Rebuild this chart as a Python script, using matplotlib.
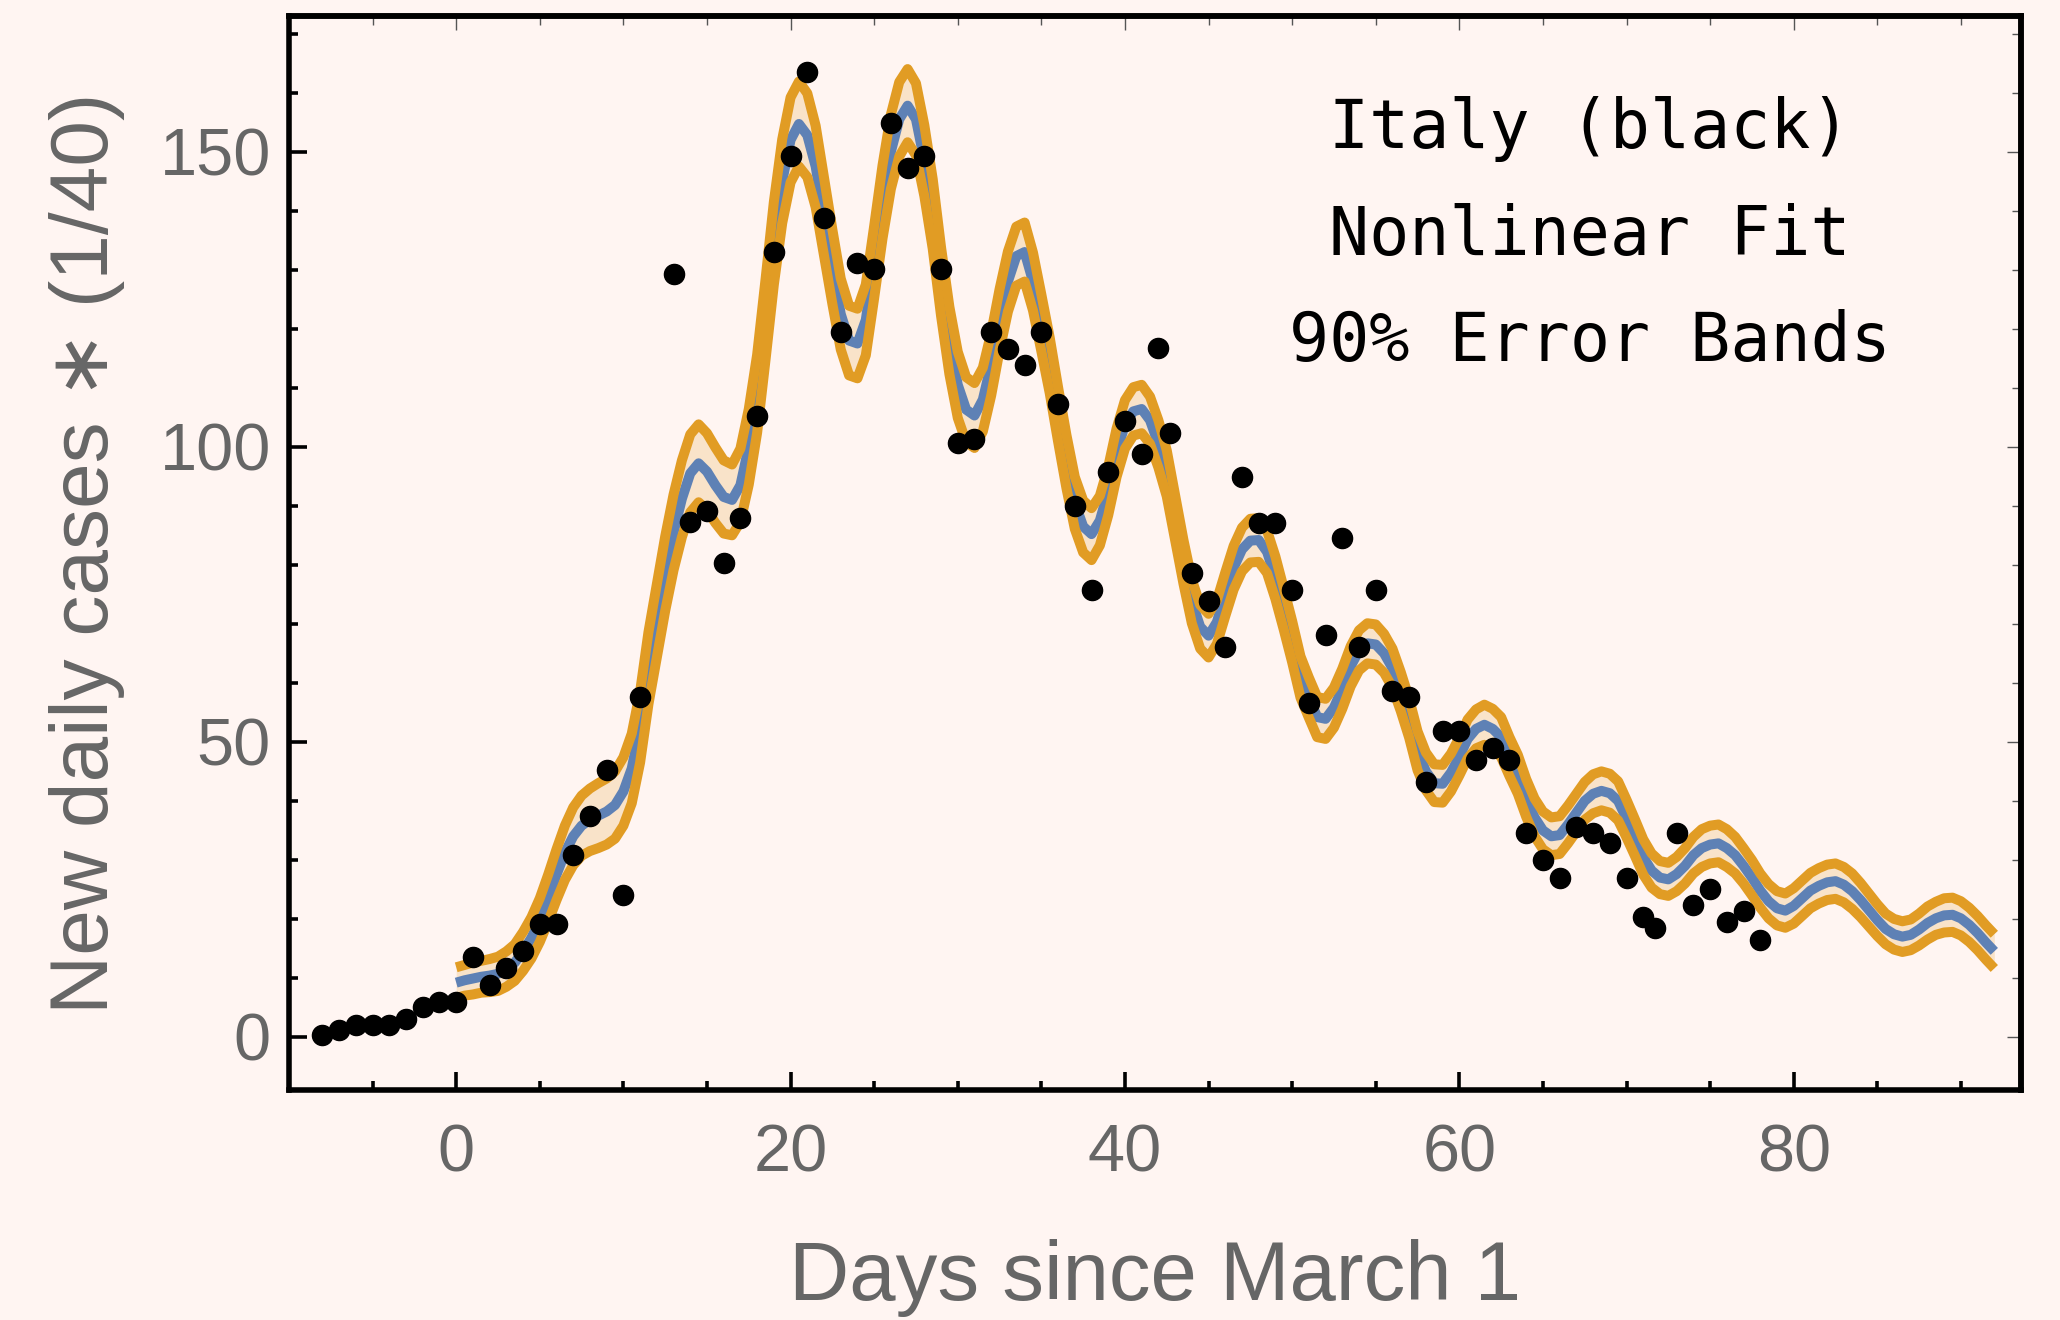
import matplotlib.pyplot as plt
import numpy as np
from matplotlib.ticker import MultipleLocator

plt.rcParams['font.family'] = ['Liberation Sans', 'DejaVu Sans']

bg = '#fff5f2'
blue = '#5e81b5'
orange = '#e19c24'
fill = '#f9e3c9'
gray = '#666666'

# daily counts (scaled by 1/40)
days = [-8, -7, -6, -5, -4, -3, -2, -1, 0, 1, 2, 3, 4, 5, 6, 7, 8, 9, 10, 11,
        13, 14, 15, 16, 17, 18, 19, 20, 21, 22, 23, 24, 25, 26, 27, 28, 29, 30,
        31, 32, 33, 34, 35, 36, 37, 38, 39, 40, 41, 42, 42.7, 44, 45, 46, 47,
        48, 49, 50, 51, 52, 53, 54, 55, 56, 57, 58, 59, 60, 61, 62, 63, 64, 65,
        66, 67, 68, 69, 70, 71, 71.7, 73, 74, 75, 76, 77, 78]
cases = [0.3, 1.2, 2.1, 2.1, 2.1, 3.1, 5.0, 6.0, 6.0, 13.6, 8.8, 11.6, 14.6,
         19.2, 19.2, 30.8, 37.5, 45.2, 24.1, 57.6,
         129.2, 87.3, 89.1, 80.3, 88.0, 105.2, 133.0, 149.3, 163.5, 138.7,
         119.5, 131.2, 130.2, 154.9, 147.3, 149.3, 130.2, 100.6,
         101.4, 119.5, 116.6, 113.9, 119.5, 107.2, 90.0, 75.7, 95.8, 104.4,
         98.7, 116.8, 102.4, 78.6, 73.8, 66.1, 94.8,
         87.1, 87.1, 75.7, 56.6, 68.1, 84.6, 66.1, 75.7, 58.6, 57.6, 43.2,
         51.8, 51.8, 47.0, 49.0, 47.0, 34.6, 29.9,
         27.0, 35.6, 34.6, 32.8, 27.0, 20.3, 18.4, 34.6, 22.3, 25.1, 19.4,
         21.3, 16.5]

# nonlinear fit, sampled every half day from day 0 to day 92
fit_days = np.arange(0, 92.5, 0.5)
fit = [9.2, 9.6, 9.9, 10.2, 10.4, 10.7, 11.5, 12.6, 14.5, 16.8,
       19.8, 23.5, 27.5, 31.2, 34.0, 35.8, 36.8, 37.5, 38.2, 39.3,
       41.6, 45.5, 52.5, 62.5, 70.5, 78.5, 85.5, 91.2, 95.5, 97.2,
       95.8, 93.5, 91.5, 91.0, 93.5, 100.0, 109.0, 121.5, 134.5, 145.0,
       152.0, 154.7, 152.8, 147.5, 139.0, 130.5, 122.5, 118.0, 117.5, 121.5,
       131.3, 141.5, 150.0, 155.5, 157.8, 155.5, 148.5, 139.5, 128.0, 118.0,
       110.5, 106.3, 105.3, 108.0, 114.0, 121.5, 128.0, 132.3, 133.0, 128.0,
       121.0, 113.8, 105.5, 97.5, 90.5, 86.5, 85.2, 87.5, 92.5, 99.0,
       103.8, 106.0, 106.4, 104.5, 100.5, 95.5, 88.0, 80.5, 73.8, 69.5,
       68.0, 70.3, 75.0, 79.5, 82.6, 84.1, 84.2, 82.2, 77.8, 72.5,
       67.0, 61.0, 57.5, 54.2, 53.9, 55.8, 59.0, 62.8, 65.5, 66.7,
       66.5, 65.0, 62.5, 58.5, 54.0, 48.5, 45.0, 43.0, 42.9, 44.8,
       47.5, 50.5, 52.2, 52.9, 52.2, 50.8, 47.5, 44.5, 40.5, 37.2,
       35.0, 34.0, 34.2, 36.0, 38.0, 40.0, 41.2, 41.7, 41.3, 40.0,
       37.0, 33.8, 30.5, 28.2, 27.0, 26.7, 27.6, 29.0, 30.8, 32.0,
       32.6, 32.8, 32.0, 30.8, 29.0, 27.0, 24.8, 23.0, 21.8, 21.4,
       22.2, 23.5, 24.8, 25.6, 26.2, 26.4, 25.8, 24.7, 23.2, 21.5,
       19.8, 18.3, 17.4, 17.0, 17.3, 18.2, 19.3, 20.1, 20.6, 20.7,
       20.1, 19.0, 17.6, 16.0, 14.5]
# half width of the 90% band
band = [2.6, 2.6, 2.7, 2.7, 2.8, 2.9, 3.0, 3.1, 3.3, 3.5,
        3.7, 4.0, 4.3, 4.6, 4.9, 5.1, 5.3, 5.5, 5.6, 5.7,
        5.8, 5.9, 6.0, 6.1, 6.2, 6.3, 6.4, 6.5, 6.6, 6.6,
        6.5, 6.4, 6.2, 6.0, 6.2, 6.4, 6.6, 6.8, 7.0, 7.1,
        7.2, 7.2, 7.1, 6.9, 6.6, 6.3, 6.0, 5.9, 5.9, 6.0,
        6.1, 6.2, 6.3, 6.3, 6.2, 6.1, 6.0, 5.9, 5.8, 5.7,
        5.6, 5.5, 5.5, 5.4, 5.3, 5.2, 5.1, 5.0, 5.0, 4.9,
        4.8, 4.7, 4.6, 4.5, 4.4, 4.4, 4.4, 4.2, 4.1, 4.1,
        4.1, 4.1, 4.1, 4.0, 4.0, 3.9, 3.8, 3.7, 3.7, 3.7,
        3.7, 3.7, 3.7, 3.7, 3.7, 3.7, 3.7, 3.6, 3.6, 3.5,
        3.5, 3.5, 3.4, 3.4, 3.4, 3.4, 3.4, 3.4, 3.4, 3.4,
        3.4, 3.3, 3.3, 3.3, 3.3, 3.3, 3.2, 3.2, 3.2, 3.2,
        3.2, 3.3, 3.3, 3.4, 3.4, 3.4, 3.3, 3.3, 3.2, 3.2,
        3.2, 3.2, 3.2, 3.2, 3.2, 3.2, 3.3, 3.3, 3.3, 3.3,
        3.2, 3.1, 3.0, 2.9, 2.8, 2.8, 2.9, 3.0, 3.1, 3.2,
        3.2, 3.2, 3.2, 3.1, 3.0, 3.0, 2.9, 2.9, 2.9, 2.9,
        3.0, 3.0, 3.0, 3.0, 3.0, 3.0, 3.0, 3.0, 2.9, 2.8,
        2.7, 2.6, 2.6, 2.6, 2.6, 2.7, 2.8, 2.8, 2.9, 2.9,
        2.9, 2.9, 2.9, 2.9, 2.9]

fit = np.array(fit)
band = np.array(band)
upper = fit + band
lower = fit - band

notes = ['Italy (black)', 'Nonlinear Fit', '90% Error Bands']

fig = plt.figure(figsize=(20.6, 13.2), dpi=100, facecolor=bg)
ax = fig.add_axes([0.1403, 0.1742, 0.8408, 0.8137], facecolor=bg)

line_kw = dict(lw=7.2, solid_joinstyle='round', solid_capstyle='butt')
ax.fill_between(fit_days, lower, upper, color=fill, lw=0, zorder=1)
ax.plot(fit_days, fit, color=blue, zorder=2, **line_kw)
ax.plot(fit_days, upper, color=orange, zorder=3, **line_kw)
ax.plot(fit_days, lower, color=orange, zorder=3, **line_kw)
ax.plot(days, cases, 'o', color='black', ms=14.5, zorder=5)

ax.set_xlim(-10, 93.6)
ax.set_ylim(-9, 173)

for side in ax.spines.values():
    side.set_linewidth(4)
    side.set_color('black')

ax.xaxis.set_major_locator(MultipleLocator(20))
ax.xaxis.set_minor_locator(MultipleLocator(5))
ax.yaxis.set_major_locator(MultipleLocator(50))
ax.yaxis.set_minor_locator(MultipleLocator(10))
ax.tick_params(which='both', direction='in', color='black', width=2.6,
               top=False, right=False, labelcolor=gray, labelsize=48)
ax.tick_params(which='major', length=13)
ax.tick_params(which='minor', length=6.5)
ax.tick_params(axis='x', pad=24)
ax.tick_params(axis='y', pad=13)

# thin ticks along the top and right edges
top = ax.secondary_xaxis('top')
top.xaxis.set_major_locator(MultipleLocator(20))
top.xaxis.set_minor_locator(MultipleLocator(5))
top.tick_params(which='both', direction='in', color='#555555', width=1,
                labeltop=False)
top.tick_params(which='major', length=10)
top.tick_params(which='minor', length=6.5)
top.spines['top'].set_linewidth(4)
right = ax.secondary_yaxis('right')
right.yaxis.set_major_locator(MultipleLocator(50))
right.yaxis.set_minor_locator(MultipleLocator(10))
right.tick_params(which='both', direction='in', color='#555555', width=1,
                  labelright=False)
right.tick_params(which='major', length=10)
right.tick_params(which='minor', length=6.5)
right.spines['right'].set_linewidth(4)

ax.set_xlabel('Days since March 1', fontsize=60, color=gray)
ax.xaxis.label.set_va('baseline')
ax.xaxis.set_label_coords(0.5, -0.1955)
ax.set_ylabel('New daily cases \u2217 (1/40)', fontsize=59, color=gray)
ax.yaxis.label.set_va('baseline')
ax.yaxis.set_label_coords(-0.1045, 0.5)

for i, line in enumerate(notes):
    ax.text(0.751, 0.895 - 0.0995 * i, line, transform=ax.transAxes,
            ha='center', va='center', fontsize=48,
            family=['DejaVu Sans Mono'], color='black')

fig.savefig('out.png', dpi=100, facecolor=bg)
